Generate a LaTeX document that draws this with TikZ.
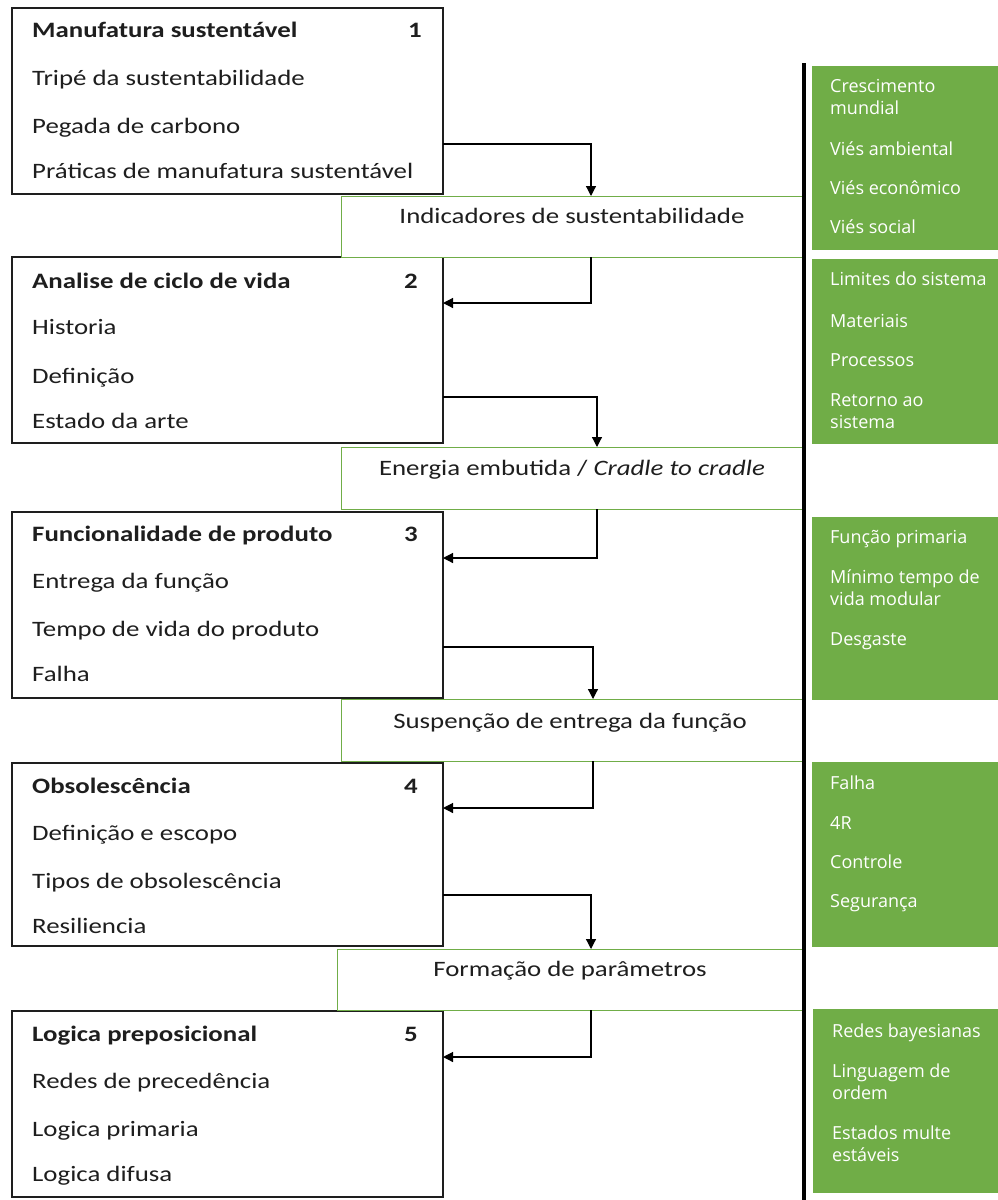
\documentclass[tikz,border=0pt]{standalone}
\usepackage{fontspec}
\setmainfont{Carlito}[FakeStretch=1.22]
\newfontfamily\panelfont{Open Sans}
\usetikzlibrary{arrows.meta}
\definecolor{leaf}{HTML}{70AD47}
\definecolor{ink}{HTML}{1E1E1E}
\begin{document}
\begin{tikzpicture}[x=1pt,y=-1pt,
  topic/.style={draw=ink,line width=1.3pt,fill=white,anchor=north west,inner sep=0,outer sep=0,minimum width=431pt},
  link/.style={draw=leaf,line width=1pt,fill=white,anchor=north west,inner sep=0,outer sep=0},
  panel/.style={fill=leaf,anchor=north west,inner sep=0,outer sep=0,minimum width=186pt},
  item/.style={anchor=base west,inner sep=0,text=ink,font=\fontsize{22}{26}\selectfont},
  head/.style={item,font=\fontsize{22}{26}\selectfont\bfseries},
  num/.style={anchor=base,inner sep=0,text=ink,font=\fontsize{22}{26}\selectfont\bfseries},
  linklbl/.style={anchor=base,inner sep=0,text=ink,font=\fontsize{22}{26}\selectfont},
  ptxt/.style={anchor=base west,inner sep=0,text=white,align=left,font=\panelfont\fontsize{18}{21.5}\selectfont},
  arr/.style={draw=black,line width=1.2pt,-{Triangle[length=10pt,width=10pt]}}]
\useasboundingbox (0,0) rectangle (998,1200);

% topic boxes
\node[topic,minimum height=186pt] (b1) at (12,8) {};
\node[topic,minimum height=186pt] (b2) at (12,257) {};
\node[topic,minimum height=186pt] (b3) at (12,512) {};
\node[topic,minimum height=183pt] (b4) at (12,763) {};
\node[topic,minimum height=186pt] (b5) at (12,1011) {};

% linking boxes
\node[link,minimum width=462pt,minimum height=61pt] (g1) at (341,196) {};
\node[link,minimum width=462pt,minimum height=62pt] (g2) at (341,447) {};
\node[link,minimum width=462pt,minimum height=62pt] (g3) at (341,699) {};
\node[link,minimum width=466pt,minimum height=61pt] (g4) at (337,949) {};

% green side panels
\node[panel,minimum height=184pt] (p1) at (812,66) {};
\node[panel,minimum height=185pt] (p2) at (812,259) {};
\node[panel,minimum height=183pt] (p3) at (812,517) {};
\node[panel,minimum height=185pt] (p4) at (812,762) {};
\node[panel,minimum height=184pt,minimum width=185pt] (p5) at (813,1009) {};

% box 1
\node[head] (h1) at (32,37) {Manufatura sustentável};
\node[num] (n1) at (415,37) {1};
\node[item] (i11) at (32,85) {Tripé da sustentabilidade};
\node[item] (i12) at (32,133) {Pegada de carbono};
\node[item] (i13) at (32,178) {Práticas de manufatura sustentável};
% box 2
\node[head] (h2) at (32,288) {Analise de ciclo de vida};
\node[num] (n2) at (411,288) {2};
\node[item] (i21) at (32,334) {Historia};
\node[item] (i22) at (32,383) {Definição};
\node[item] (i23) at (32,428) {Estado da arte};
% box 3
\node[head] (h3) at (32,541) {Funcionalidade de produto};
\node[num] (n3) at (411,541) {3};
\node[item] (i31) at (32,588) {Entrega da função};
\node[item] (i32) at (32,636) {Tempo de vida do produto};
\node[item] (i33) at (32,681) {Falha};
% box 4
\node[head] (h4) at (32,793) {Obsolescência};
\node[num] (n4) at (411,793) {4};
\node[item] (i41) at (32,840) {Definição e escopo};
\node[item] (i42) at (32,888) {Tipos de obsolescência};
\node[item] (i43) at (32,933) {Resiliencia};
% box 5
\node[head] (h5) at (32,1041) {Logica preposicional};
\node[num] (n5) at (411,1041) {5};
\node[item] (i51) at (32,1088) {Redes de precedência};
\node[item] (i52) at (32,1136) {Logica primaria};
\node[item] (i53) at (32,1181) {Logica difusa};

% linking labels
\node[linklbl] (l1) at (572,223) {Indicadores de sustentabilidade};
\node[linklbl] (l2) at (572,475) {Energia embutida / \textit{Cradle to cradle}};
\node[linklbl] (l3) at (570,728) {Suspenção de entrega da função};
\node[linklbl] (l4) at (570,976) {Formação de parâmetros};

% panel texts (two-line entries are placed by the baseline of their last line)
\node[ptxt] (q11) at (830,114) {Crescimento\\mundial};
\node[ptxt] (q12) at (830,155) {Viés ambiental};
\node[ptxt] (q13) at (830,194) {Viés econômico};
\node[ptxt] (q14) at (830,233) {Viés social};
\node[ptxt] (q21) at (830,285) {Limites do sistema};
\node[ptxt] (q22) at (830,327) {Materiais};
\node[ptxt] (q23) at (830,366) {Processos};
\node[ptxt] (q24) at (830,428) {Retorno ao\\sistema};
\node[ptxt] (q31) at (830,543) {Função primaria};
\node[ptxt] (q32) at (830,605) {Mínimo tempo de\\vida modular};
\node[ptxt] (q33) at (830,645) {Desgaste};
\node[ptxt] (q41) at (830,789) {Falha};
\node[ptxt] (q42) at (830,829) {4R};
\node[ptxt] (q43) at (830,868) {Controle};
\node[ptxt] (q44) at (830,907) {Segurança};
\node[ptxt] (q51) at (832,1037) {Redes bayesianas};
\node[ptxt] (q52) at (832,1099) {Linguagem de\\ordem};
\node[ptxt] (q53) at (832,1161) {Estados multe\\estáveis};

% connectors
\draw[arr] (b1.east |- 0,144) -| (g1.north -| 591,0);
\draw[arr] (g1.south -| 591,0) |- (b2.east |- 0,303);
\draw[arr] (b2.east |- 0,397) -| (g2.north -| 597,0);
\draw[arr] (g2.south -| 597,0) |- (b3.east |- 0,558);
\draw[arr] (b3.east |- 0,647) -| (g3.north -| 593,0);
\draw[arr] (g3.south -| 593,0) |- (b4.east |- 0,808);
\draw[arr] (b4.east |- 0,895) -| (g4.north -| 591,0);
\draw[arr] (g4.south -| 591,0) |- (b5.east |- 0,1057);

% vertical divider
\draw[black,line width=3.5pt] (804,63) -- (804,1200);
\end{tikzpicture}
\end{document}
